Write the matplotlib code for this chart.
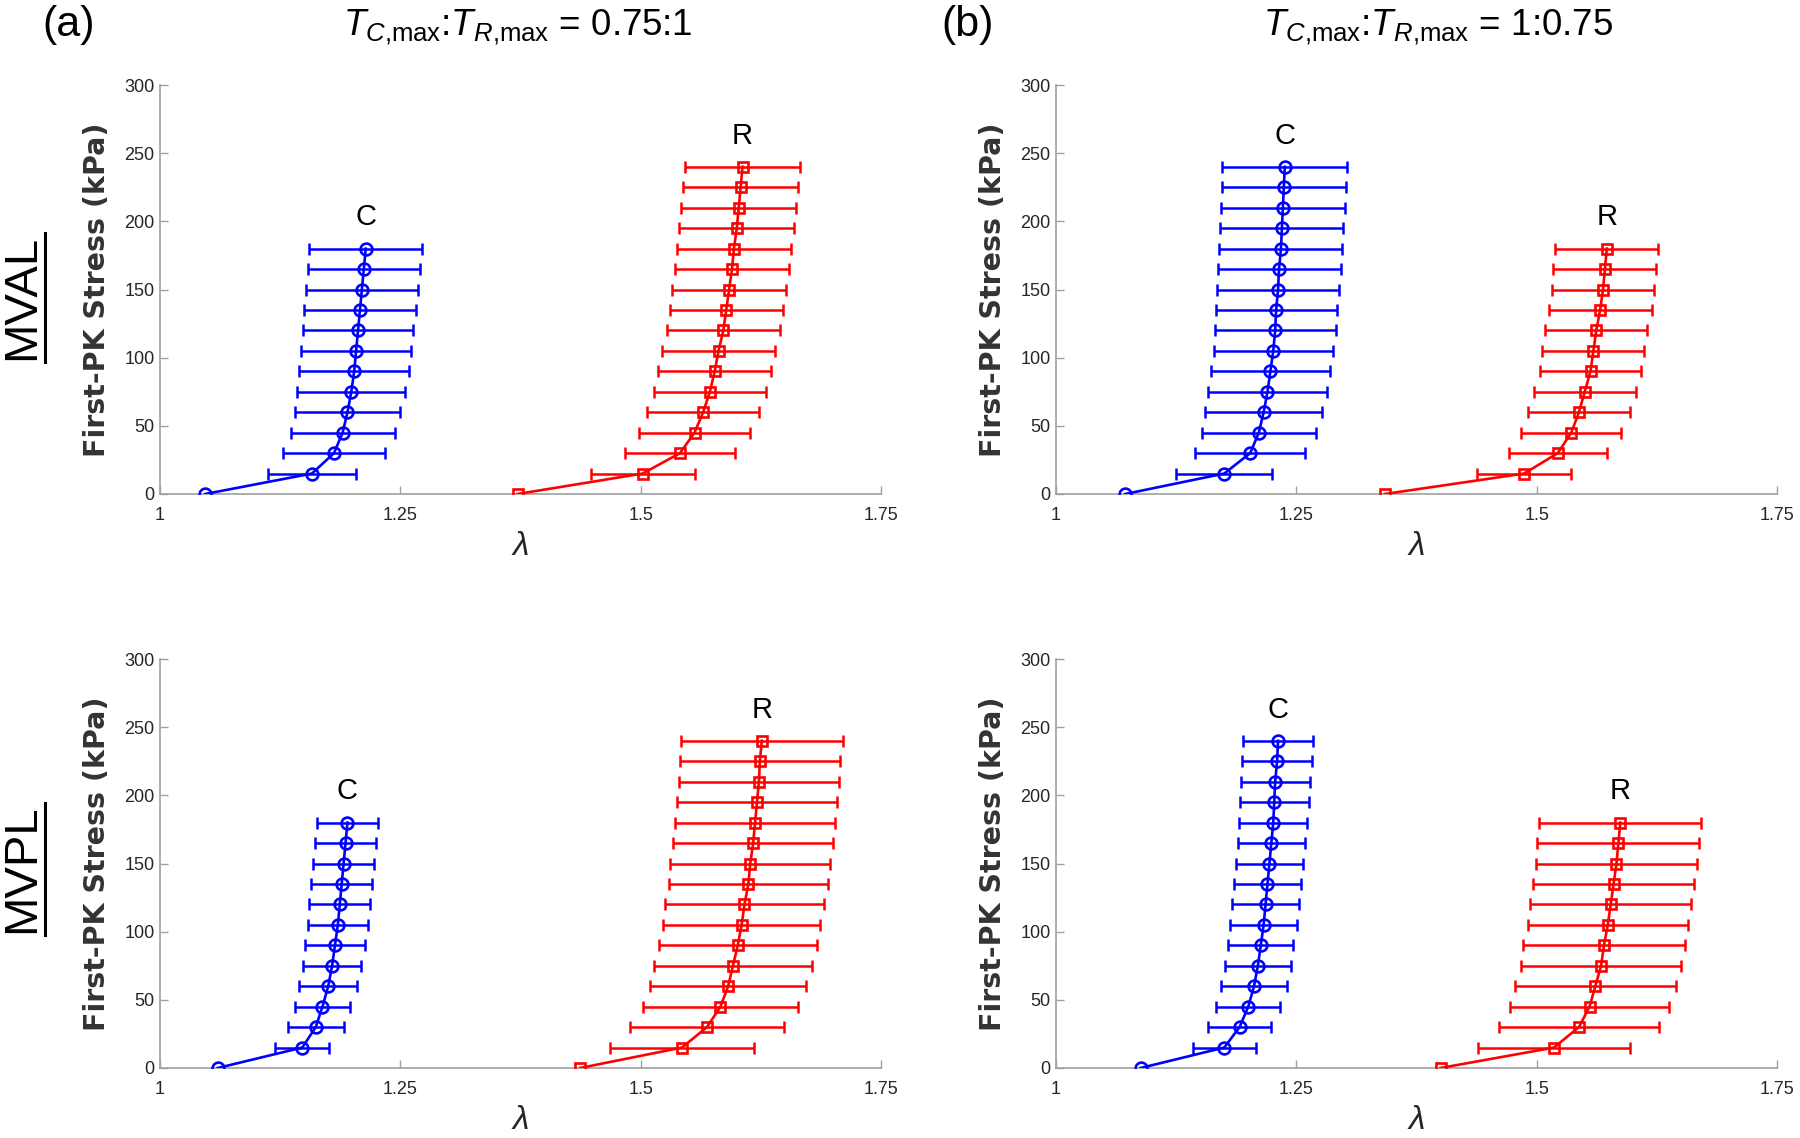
import matplotlib
matplotlib.use("Agg")
import matplotlib.pyplot as plt
from matplotlib.lines import Line2D

plt.rcParams['font.family'] = ['Liberation Sans', 'DejaVu Sans']
plt.rcParams['mathtext.fontset'] = 'custom'
plt.rcParams['mathtext.rm'] = 'Liberation Sans'
plt.rcParams['mathtext.it'] = 'Liberation Sans:italic'
plt.rcParams['mathtext.bf'] = 'Liberation Sans:bold'

# ---------------- data ----------------
stress_long = [0, 15, 30, 45, 60, 75, 90, 105, 120, 135, 150, 165, 180, 195, 210, 225, 240]
stress_short = [0, 15, 30, 45, 60, 75, 90, 105, 120, 135, 150, 165, 180]

# MVAL, ratio 0.75:1
mval_a_C = [1.047, 1.158, 1.181, 1.190, 1.195, 1.199, 1.202, 1.204, 1.206, 1.208, 1.210, 1.212, 1.214]
mval_a_C_err = [0, 0.046, 0.053, 0.054, 0.055, 0.056, 0.057, 0.057, 0.0575, 0.058, 0.058, 0.0585, 0.0588]
mval_a_R = [1.372, 1.502, 1.541, 1.556, 1.565, 1.572, 1.577, 1.581, 1.586, 1.589, 1.592, 1.595, 1.597,
            1.600, 1.602, 1.604, 1.606]
mval_a_R_err = [0, 0.054, 0.057, 0.058, 0.058, 0.058, 0.059, 0.059, 0.059, 0.059, 0.0595, 0.0595, 0.0595,
                0.060, 0.060, 0.060, 0.060]

# MVAL, ratio 1:0.75
mval_b_C = [1.072, 1.175, 1.202, 1.211, 1.216, 1.220, 1.223, 1.226, 1.228, 1.229, 1.231, 1.232, 1.234,
            1.235, 1.236, 1.237, 1.238]
mval_b_C_err = [0, 0.050, 0.057, 0.059, 0.061, 0.0615, 0.062, 0.062, 0.063, 0.063, 0.0635, 0.064, 0.064,
                0.064, 0.0645, 0.0645, 0.065]
mval_b_R = [1.342, 1.487, 1.522, 1.536, 1.544, 1.550, 1.556, 1.559, 1.562, 1.566, 1.569, 1.571, 1.573]
mval_b_R_err = [0, 0.049, 0.051, 0.052, 0.053, 0.053, 0.053, 0.053, 0.053, 0.0535, 0.0535, 0.0535, 0.0536]

# MVPL, ratio 0.75:1
mvpl_a_C = [1.060, 1.148, 1.162, 1.169, 1.175, 1.179, 1.182, 1.185, 1.187, 1.189, 1.191, 1.193, 1.195]
mvpl_a_C_err = [0, 0.028, 0.029, 0.029, 0.030, 0.030, 0.031, 0.031, 0.0315, 0.0315, 0.0315, 0.032, 0.032]
mvpl_a_R = [1.437, 1.543, 1.569, 1.583, 1.591, 1.596, 1.601, 1.605, 1.608, 1.612, 1.614, 1.617, 1.619,
            1.621, 1.623, 1.624, 1.626]
mvpl_a_R_err = [0, 0.075, 0.080, 0.081, 0.081, 0.082, 0.082, 0.082, 0.0825, 0.0825, 0.083, 0.083, 0.083,
                0.0833, 0.0833, 0.0836, 0.084]

# MVPL, ratio 1:0.75
mvpl_b_C = [1.088, 1.175, 1.191, 1.200, 1.206, 1.210, 1.213, 1.216, 1.218, 1.220, 1.222, 1.224, 1.226,
            1.227, 1.228, 1.230, 1.231]
mvpl_b_C_err = [0, 0.033, 0.033, 0.0335, 0.034, 0.034, 0.034, 0.0345, 0.0345, 0.0345, 0.035, 0.035, 0.0355,
                0.0357, 0.036, 0.036, 0.036]
mvpl_b_R = [1.400, 1.518, 1.544, 1.555, 1.561, 1.567, 1.570, 1.574, 1.577, 1.580, 1.583, 1.585, 1.587]
mvpl_b_R_err = [0, 0.079, 0.083, 0.083, 0.0835, 0.0835, 0.084, 0.0835, 0.084, 0.084, 0.084, 0.0843, 0.0843]

x_ticks = [1, 1.25, 1.5, 1.75]
x_tick_labels = ['1', '1.25', '1.5', '1.75']
y_ticks = [0, 50, 100, 150, 200, 250, 300]

panel_letters = ['(a)', '(b)']
ratio_titles = [r'$T_{C{,}\mathrm{max}}$:$T_{R{,}\mathrm{max}}$ = 0.75:1',
                r'$T_{C{,}\mathrm{max}}$:$T_{R{,}\mathrm{max}}$ = 1:0.75']
row_labels = ['MVAL', 'MVPL']

panels = [
    # (row, col, C x, C err, C stress, R x, R err, R stress)
    (0, 0, mval_a_C, mval_a_C_err, stress_short, mval_a_R, mval_a_R_err, stress_long),
    (0, 1, mval_b_C, mval_b_C_err, stress_long, mval_b_R, mval_b_R_err, stress_short),
    (1, 0, mvpl_a_C, mvpl_a_C_err, stress_short, mvpl_a_R, mvpl_a_R_err, stress_long),
    (1, 1, mvpl_b_C, mvpl_b_C_err, stress_long, mvpl_b_R, mvpl_b_R_err, stress_short),
]

# ---------------- figure ----------------
W, H = 1800, 1138
fig = plt.figure(figsize=(W / 100, H / 100), dpi=100)

lefts = [160 / W, 1056 / W]
width = 721 / W
bottoms = [1 - 494 / H, 1 - 1068 / H]
height = 409 / H

axis_gray = '#a0a0a0'
text_dark = '#262626'

def draw_series(ax, xs, errs, ys, color, marker, ms):
    ax.plot(xs, ys, color=color, lw=1.9, marker=marker, ms=ms, mfc='none', mec=color, mew=1.9, zorder=3)
    ex = [x for x, e in zip(xs, errs) if e > 0]
    ey = [y for y, e in zip(ys, errs) if e > 0]
    ee = [e for e in errs if e > 0]
    ax.errorbar(ex, ey, xerr=ee, fmt='none', ecolor=color, elinewidth=1.8, capsize=4.5, capthick=1.8, zorder=2)

for row, col, cx, ce, cy, rx, re_, ry in panels:
    ax = fig.add_axes([lefts[col], bottoms[row], width, height])
    draw_series(ax, cx, ce, cy, 'blue', 'o', 8.5)
    draw_series(ax, rx, re_, ry, 'red', 's', 7)
    ax.text(cx[-1], cy[-1] + 17, 'C', fontsize=21, ha='center', va='baseline', color='black')
    ax.text(rx[-1], ry[-1] + 17, 'R', fontsize=21, ha='center', va='baseline', color='black')

    ax.set_xlim(1, 1.75)
    ax.set_ylim(0, 300)
    ax.set_xticks(x_ticks)
    ax.set_xticklabels(x_tick_labels)
    ax.set_yticks(y_ticks)
    for s in ['top', 'right']:
        ax.spines[s].set_visible(False)
    for s in ['left', 'bottom']:
        ax.spines[s].set_color(axis_gray)
        ax.spines[s].set_linewidth(1.2)
    ax.tick_params(direction='in', length=6, width=1.0, color=axis_gray, labelcolor=text_dark,
                   labelsize=13)
    ax.tick_params(axis='x', pad=9)
    ax.tick_params(axis='y', pad=4)
    ax.set_ylabel('First-PK Stress (kPa)', fontsize=20.5, fontweight='bold', color='#333333',
                  va='center', family=['DejaVu Sans'])
    ax.yaxis.set_label_coords(-0.0875, 0.5)
    ax.set_xlabel(r'$\lambda$', fontsize=24, color=text_dark, va='center')
    ax.xaxis.set_label_coords(0.5, -0.128)

# column titles
title_x = [518 / W, 1438 / W]
letter_x = [42 / W, 941 / W]
for i in range(2):
    fig.text(letter_x[i], 1 - 25 / H, panel_letters[i], fontsize=31, ha='left', va='center', color='black')
    fig.text(title_x[i], 1 - 27 / H, ratio_titles[i], fontsize=26.5, ha='center', va='center', color='black')

# row labels with underline
row_cy = [1 - 297 / H, 1 - 869 / H]
underline_y = [(1 - 233 / H, 1 - 362 / H), (1 - 803 / H, 1 - 935 / H)]
for i in range(2):
    fig.text(22 / W, row_cy[i], row_labels[i], fontsize=34, rotation=90, ha='center', va='center',
             color='black')
    fig.add_artist(Line2D([45 / W, 45 / W], list(underline_y[i]), color='black', lw=2.2,
                          transform=fig.transFigure))

fig.savefig('out.png', dpi=100, facecolor='white')
